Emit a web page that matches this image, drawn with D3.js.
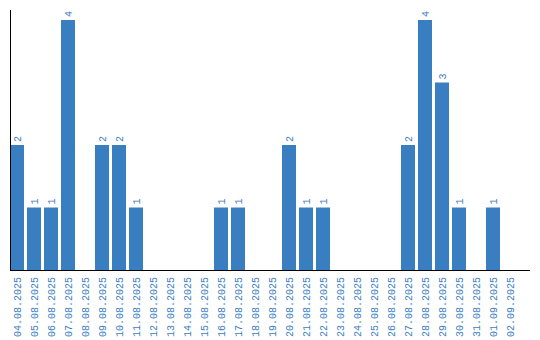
<!DOCTYPE html>
<html>
<head>
<meta charset="utf-8">
<script src="https://cdn.jsdelivr.net/npm/d3@7"></script>
<style>
  body { margin: 0; background: #fff; }
  svg { display: block; }
  text { font-family: "Liberation Mono", monospace; font-size: 10px; fill: #3a7ec2; }
</style>
</head>
<body>
<svg width="540" height="340"></svg>
<script>
const dates = [
  "04.08.2025", "05.08.2025", "06.08.2025", "07.08.2025", "08.08.2025",
  "09.08.2025", "10.08.2025", "11.08.2025", "12.08.2025", "13.08.2025",
  "14.08.2025", "15.08.2025", "16.08.2025", "17.08.2025", "18.08.2025",
  "19.08.2025", "20.08.2025", "21.08.2025", "22.08.2025", "23.08.2025",
  "24.08.2025", "25.08.2025", "26.08.2025", "27.08.2025", "28.08.2025",
  "29.08.2025", "30.08.2025", "31.08.2025", "01.09.2025", "02.09.2025"
];
const counts = [2, 1, 1, 4, 0, 2, 2, 1, 0, 0, 0, 0, 1, 1, 0, 0, 2, 1, 1, 0, 0, 0, 0, 2, 4, 3, 1, 0, 1, 0];

const data = dates.map((d, i) => ({ date: d, count: counts[i] }));

let svg = d3.select('svg');
const barColor = "#3a7ec2";

const xScale = d3.scaleBand()
                  .domain(dates)
                  .range([10, 517])
                  .paddingInner(3 / 17)
                  .paddingOuter(0);

const yScale = d3.scaleLinear()
                  .domain([0, d3.max(counts)])
                  .range([270, 20]);

// bars
svg.append("g").selectAll("rect").data(data.filter(d => d.count > 0))
   .enter()
   .append("rect")
   .attr("x", d => xScale(d.date))
   .attr("y", d => yScale(d.count))
   .attr("width", xScale.bandwidth())
   .attr("height", d => yScale(0) - yScale(d.count))
   .attr("fill", barColor);

// value labels
svg.append("g").selectAll("text").data(data.filter(d => d.count > 0))
   .enter()
   .append("text")
   .attr("transform", d => "translate(" + (xScale(d.date) + xScale.bandwidth() / 2 + 3.5) + "," + (yScale(d.count) - 3) + ") rotate(-90)")
   .attr("text-anchor", "start")
   .text(d => d.count);

// axes lines
svg.append("line")
   .attr("x1", 10.5).attr("x2", 10.5)
   .attr("y1", 10).attr("y2", 270)
   .attr("stroke", "#000");

svg.append("line")
   .attr("x1", 10).attr("x2", 530)
   .attr("y1", 270.5).attr("y2", 270.5)
   .attr("stroke", "#000");

// x tick labels
svg.append("g").selectAll("text").data(dates)
   .enter()
   .append("text")
   .attr("transform", d => "translate(" + (xScale(d) + xScale.bandwidth() / 2 + 3.5) + ",277) rotate(-90)")
   .attr("text-anchor", "end")
   .text(d => d);
</script>
</body>
</html>
